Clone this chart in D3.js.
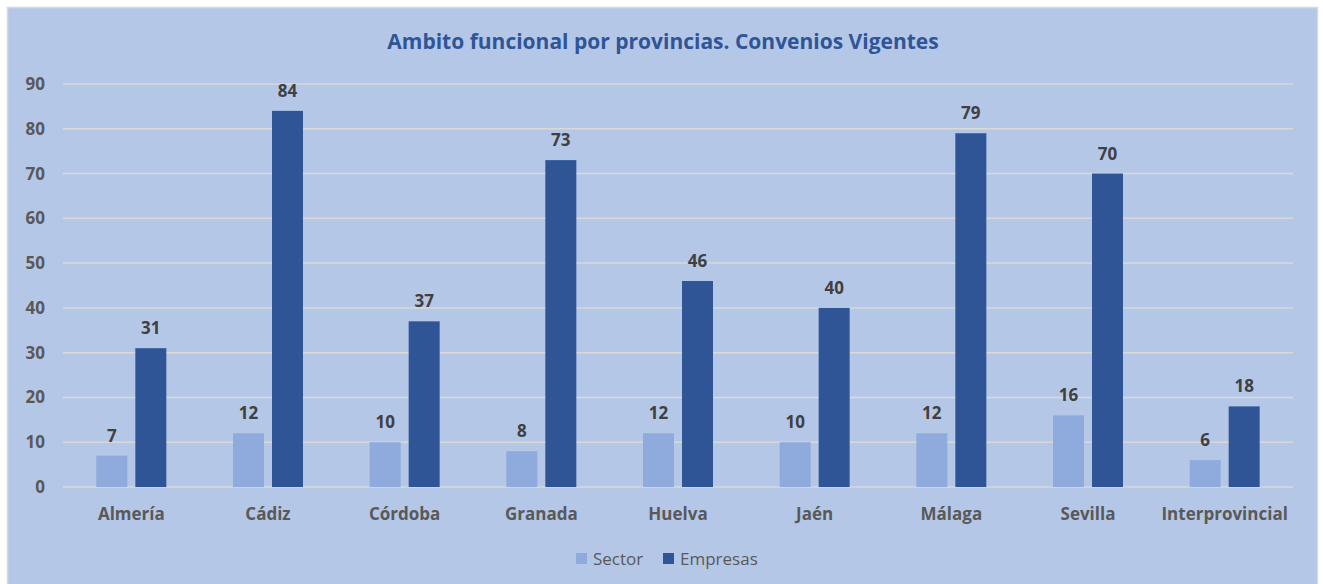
<!DOCTYPE html>
<html>
<head>
<meta charset="utf-8">
<script src="https://cdn.jsdelivr.net/npm/d3@7"></script>
<style>
  body { margin: 0; background: #ffffff; }
  text { font-family: "Open Sans", "Noto Sans", sans-serif; }
</style>
</head>
<body>
<div id="chart"></div>
<script>
// chart values
var categories = ["Almería", "Cádiz", "Córdoba", "Granada", "Huelva", "Jaén", "Málaga", "Sevilla", "Interprovincial"];
var sectorValues = [7, 12, 10, 8, 12, 10, 12, 16, 6];
var empresasValues = [31, 84, 37, 73, 46, 40, 79, 70, 18];
var seriesNames = ["Sector", "Empresas"];
var yTicks = [0, 10, 20, 30, 40, 50, 60, 70, 80, 90];
var chartTitle = "Ambito funcional por provincias. Convenios Vigentes";

var width = 1323, height = 584;
var colors = ["#8faadc", "#2f5597"];

var svg = d3.select("#chart").append("svg")
    .attr("width", width)
    .attr("height", height);

// chart area background + frame
svg.append("rect")
    .attr("x", 7.5).attr("y", 7.5)
    .attr("width", 1310).attr("height", 590)
    .attr("fill", "#b4c7e7")
    .attr("stroke", "#d9d9d9")
    .attr("stroke-width", 1.5);

var plot = {left: 63, right: 1293, top: 84, bottom: 487};

var x = d3.scaleBand().domain(categories).range([plot.left, plot.right]);
var y = d3.scaleLinear().domain([0, 90]).range([plot.bottom, plot.top]);

var barW = 31, barGap = 8;

// gridlines
svg.append("g").selectAll("line").data(yTicks).enter().append("line")
    .attr("x1", plot.left).attr("x2", plot.right)
    .attr("y1", function (d) { return y(d); })
    .attr("y2", function (d) { return y(d); })
    .attr("stroke", "#d9d9d9")
    .attr("stroke-width", 1.5);

// y axis labels
var yAxis = d3.axisLeft(y).tickValues(yTicks).tickSize(0).tickPadding(18);
var gy = svg.append("g").attr("transform", "translate(" + plot.left + ",0)").call(yAxis);
gy.select(".domain").remove();
gy.selectAll("text")
    .attr("fill", "#595959")
    .style("font-size", "17px")
    .style("font-weight", "bold");

// x axis labels
var xAxis = d3.axisBottom(x).tickSize(0).tickPadding(21);
var gx = svg.append("g").attr("transform", "translate(0," + plot.bottom + ")").call(xAxis);
gx.select(".domain").remove();
gx.selectAll("text")
    .attr("fill", "#595959")
    .style("font-size", "17px")
    .style("font-weight", "bold");

var series = [sectorValues, empresasValues];

series.forEach(function (vals, s) {
    var offset = s === 0 ? -(barW + barGap / 2) : barGap / 2;
    var g = svg.append("g");
    g.selectAll("rect").data(vals).enter().append("rect")
        .attr("x", function (d, i) { return x(categories[i]) + x.bandwidth() / 2 + offset; })
        .attr("y", function (d) { return y(d); })
        .attr("width", barW)
        .attr("height", function (d) { return y(0) - y(d); })
        .attr("fill", colors[s]);
    g.selectAll("text").data(vals).enter().append("text")
        .attr("x", function (d, i) { return x(categories[i]) + x.bandwidth() / 2 + offset + barW / 2; })
        .attr("y", function (d) { return y(d) - 14; })
        .attr("text-anchor", "middle")
        .attr("fill", "#404040")
        .style("font-size", "17px")
        .style("font-weight", "bold")
        .text(function (d) { return d; });
});

// title
svg.append("text")
    .attr("x", 663).attr("y", 49)
    .attr("text-anchor", "middle")
    .attr("fill", "#2f5597")
    .style("font-size", "21px")
    .style("font-weight", "bold")
    .text(chartTitle);

// legend
var legendItems = [{name: seriesNames[0], x: 576}, {name: seriesNames[1], x: 663}];
var lg = svg.append("g");
legendItems.forEach(function (it, i) {
    lg.append("rect")
        .attr("x", it.x).attr("y", 553)
        .attr("width", 11).attr("height", 11)
        .attr("fill", colors[i]);
    lg.append("text")
        .attr("x", it.x + 17).attr("y", 565)
        .attr("fill", "#595959")
        .style("font-size", "17px")
        .text(it.name);
});
</script>
</body>
</html>
